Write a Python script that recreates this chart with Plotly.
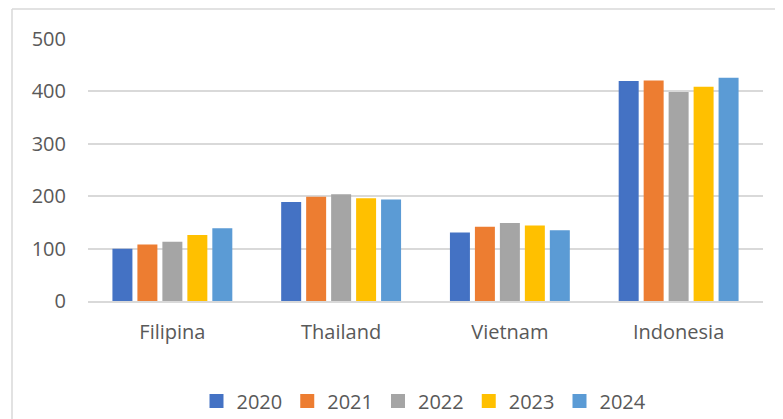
import plotly.graph_objects as go

categories = ["Filipina", "Thailand", "Vietnam", "Indonesia"]
years = ["2020", "2021", "2022", "2023", "2024"]
v2020 = [98, 187, 129, 418]
v2021 = [106, 197, 140, 419]
v2022 = [111, 202, 147, 397]
v2023 = [124, 194, 142, 407]
v2024 = [137, 192, 133, 424]
series = [v2020, v2021, v2022, v2023, v2024]
colors = ["#4472C4", "#ED7D31", "#A5A5A5", "#FFC000", "#5B9BD5"]

fig = go.Figure()
for name, vals, c in zip(years, series, colors):
    fig.add_trace(go.Bar(x=categories, y=vals, name=name,
                         marker=dict(color=c, line=dict(width=2, color=c))))

# page body adds an 8px offset; compensate
OFF = 8
W, H = 783, 419
L, T = 88 - OFF, 39 - OFF
R = W - (763 - OFF)
B = H - (301 - OFF)
pw, ph = W - L - R, H - T - B

def px(x):
    return (x - OFF - L) / pw

def py(y):
    return (H - B - (y - OFF)) / ph

grey = "#D9D9D9"
txt = "#595959"
fig.update_layout(
    template="none",
    width=W, height=H,
    margin=dict(l=L, r=R, t=T, b=B, pad=0, autoexpand=False),
    paper_bgcolor="white", plot_bgcolor="white",
    font=dict(family="Open Sans", size=20, color=txt),
    barmode="group", bargap=0.26, bargroupgap=0.28,
    showlegend=True,
    legend=dict(orientation="h", xref="container", yref="container",
                x=(424 - OFF) / W, xanchor="center",
                y=1 - (401 - OFF) / H, yanchor="middle",
                font=dict(size=20, color=txt), itemwidth=30,
                traceorder="normal", bgcolor="rgba(0,0,0,0)"),
    xaxis=dict(showgrid=False, showline=True, linecolor=grey, linewidth=1.5,
               ticks="", tickfont=dict(size=20, color=txt), automargin=False,
               ticklabelstandoff=12, zeroline=False),
    yaxis=dict(range=[0, 500], dtick=100, showgrid=True, gridcolor=grey,
               gridwidth=1.5, zeroline=False, showline=False, ticks="",
               automargin=False,
               tickfont=dict(size=20, color=txt), ticklabelstandoff=21),
)

# chart area border (left and top edges visible)
fig.add_shape(type="line", xref="paper", yref="paper",
              x0=px(12), x1=px(12), y0=py(9), y1=py(H + 10),
              line=dict(color=grey, width=1.5))
fig.add_shape(type="line", xref="paper", yref="paper",
              x0=px(12), x1=px(W + 10), y0=py(9), y1=py(9),
              line=dict(color=grey, width=1.5))

fig.write_html("out.html")
